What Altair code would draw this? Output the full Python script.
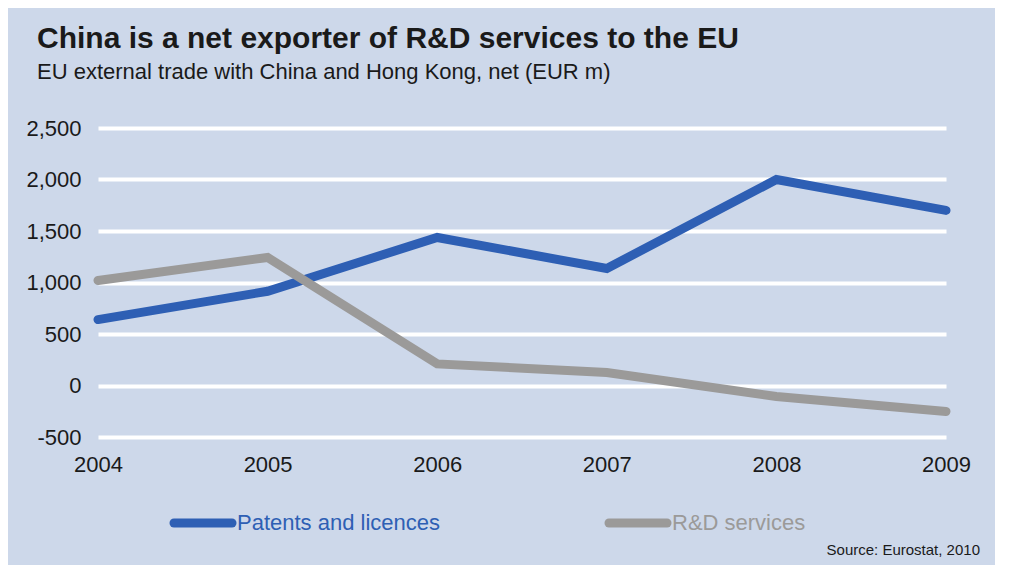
import altair as alt
import pandas as pd

years = [2004, 2005, 2006, 2007, 2008, 2009]
patents = [640, 915, 1437, 1136, 2000, 1700]
rd_services = [1020, 1243, 210, 126, -107, -252]
series_names = ["Patents and licences", "R&D services"]
y_ticks = [-500, 0, 500, 1000, 1500, 2000, 2500]

rows = []
for i, y in enumerate(years):
    rows.append({"year": y, "series": series_names[0], "value": patents[i], "order": 0})
for i, y in enumerate(years):
    rows.append({"year": y, "series": series_names[1], "value": rd_services[i], "order": 1})
df = pd.DataFrame(rows)

FONT = "Liberation Sans, Arial, sans-serif"
BLUE = "#2e5fb4"
GREY = "#9b9a99"
BG = "#cdd8ea"
TXT = "#1a1a1a"
COLORS = [BLUE, GREY]

lines = alt.Chart(df).mark_line(strokeWidth=9, strokeCap="round", strokeJoin="miter").encode(
    x=alt.X("year:Q",
            scale=alt.Scale(domain=[2004, 2009], nice=False, zero=False),
            axis=alt.Axis(values=years, format="d", title=None, grid=False,
                          domain=False, ticks=False, labelFlush=False,
                          labelPadding=17, labelFontSize=22, labelColor=TXT,
                          labelFont=FONT)),
    y=alt.Y("value:Q",
            scale=alt.Scale(domain=[-500, 2500], nice=False, zero=False),
            axis=alt.Axis(values=y_ticks, format=",d", title=None, domain=False,
                          labelExpr="replace(datum.label, '\u2212', '-')",
                          ticks=False, labelPadding=17, labelFontSize=22,
                          labelColor=TXT, labelFont=FONT,
                          gridColor="white", gridWidth=4, gridOpacity=1)),
    color=alt.Color("series:N",
                    scale=alt.Scale(domain=series_names, range=COLORS),
                    legend=None),
    order=alt.Order("order:Q"),
    detail="series:N",
)

# manual legend (positions relative to plot area origin)
legend_x0 = [72, 507]
legend_layers = []
for i, name in enumerate(series_names):
    d = pd.DataFrame({"name": [name]})
    legend_layers.append(
        alt.Chart(d).mark_rule(strokeWidth=9, strokeCap="round", color=COLORS[i]).encode(
            x=alt.value(legend_x0[i] + 4), x2=alt.value(legend_x0[i] + 62), y=alt.value(395))
    )
    legend_layers.append(
        alt.Chart(d).mark_text(align="left", baseline="middle", fontSize=22, font=FONT,
                               color=COLORS[i]).encode(
            text="name:N", x=alt.value(legend_x0[i] + 67), y=alt.value(395))
    )

source = alt.Chart(pd.DataFrame({"t": ["Source: Eurostat, 2010"]})).mark_text(
    align="right", baseline="alphabetic", fontSize=15, font=FONT, color=TXT
).encode(text="t:N", x=alt.value(882), y=alt.value(427))

chart = alt.layer(lines, *legend_layers, source).properties(
    width=848,
    height=309,
    autosize=alt.AutoSizeParams(type="none"),
    padding={"left": 90, "right": 49, "top": 120, "bottom": 128},
    background=BG,
    title=alt.Title(
        "China is a net exporter of R&D services to the EU",
        subtitle="EU external trade with China and Hong Kong, net (EUR m)",
        anchor="start", frame="group", dx=-61, offset=34,
        font=FONT, fontSize=30, fontWeight="bold", color=TXT,
        subtitleFont=FONT, subtitleFontSize=22, subtitleColor=TXT,
        subtitlePadding=8,
    ),
).configure_view(fill=BG, stroke=None)

chart.save("out.html", embed_options={"renderer": "svg", "actions": False})
